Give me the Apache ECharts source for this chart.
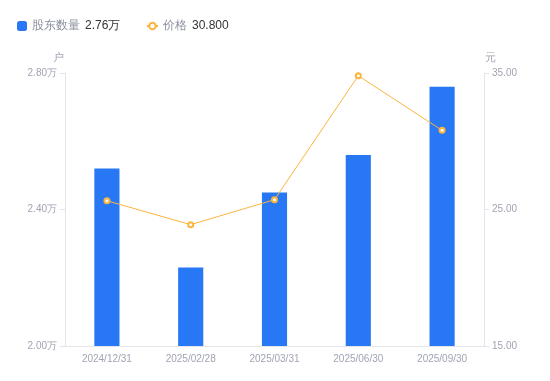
<!DOCTYPE html>
<html>
<head>
<meta charset="utf-8">
<script src="https://cdn.jsdelivr.net/npm/echarts@6/dist/echarts.min.js"></script>
<style>
  html, body { margin: 0; padding: 0; background: #fff; }
  #chart { width: 550px; height: 381px; }
</style>
</head>
<body>
<div id="chart"></div>
<script>
// 报告期
const dates = ['2024/12/31', '2025/02/28', '2025/03/31', '2025/06/30', '2025/09/30'];
// 股东数量（万户）
const holders = [2.52, 2.23, 2.45, 2.56, 2.76];
// 价格（元）
const prices = [25.64, 23.89, 25.72, 34.80, 30.80];

const axisColor = '#e3e5ea';
const labelColor = '#a0a4b3';

let chart = echarts.init(document.getElementById('chart'), null, { renderer: 'canvas' });

// 图例显示最新一期的值
const lastHolder = holders[holders.length - 1].toFixed(2) + '万';
const lastPrice = prices[prices.length - 1].toFixed(3);

const legendText = {
    rich: {
        n: { color: '#8c909f', fontSize: 12, padding: [0, 5, 0, 0] },
        v: { color: '#333', fontSize: 12 }
    }
};
function legendFormatter(name) {
    let v = name === '股东数量' ? lastHolder : lastPrice;
    return '{n|' + name + '}{v|' + v + '}';
}

chart.setOption({
    animation: false,
    legend: [
        {
            left: 12,
            top: 15,
            itemWidth: 10,
            itemHeight: 10,
            data: [{ name: '股东数量', icon: 'roundRect' }],
            formatter: legendFormatter,
            textStyle: legendText
        },
        {
            left: 141,
            top: 15,
            itemWidth: 11,
            itemHeight: 8,
            data: ['价格'],
            formatter: legendFormatter,
            textStyle: legendText
        }
    ],
    grid: { left: 65, right: 66, top: 73, bottom: 35 },
    xAxis: {
        type: 'category',
        data: dates,
        axisLine: { lineStyle: { color: axisColor } },
        axisTick: { show: false },
        axisLabel: { color: labelColor, fontSize: 10, margin: 8 }
    },
    yAxis: [
        {
            type: 'value',
            name: '户',
            min: 2.0,
            max: 2.8,
            interval: 0.4,
            nameGap: 10,
            nameTextStyle: { color: labelColor, fontSize: 11, padding: [0, 14, 0, 0] },
            axisLine: { show: true, lineStyle: { color: axisColor } },
            axisTick: { show: true, length: 5, lineStyle: { color: axisColor } },
            splitLine: { show: false },
            axisLabel: {
                color: labelColor, fontSize: 10, margin: 8,
                formatter: v => v.toFixed(2) + '万'
            }
        },
        {
            type: 'value',
            name: '元',
            min: 15,
            max: 35,
            interval: 10,
            nameGap: 10,
            nameTextStyle: { color: labelColor, fontSize: 11, padding: [0, 0, 0, 12] },
            axisLine: { show: true, lineStyle: { color: axisColor } },
            axisTick: { show: true, length: 5, lineStyle: { color: axisColor } },
            splitLine: { show: false },
            axisLabel: {
                color: labelColor, fontSize: 10, margin: 8,
                formatter: v => v.toFixed(2)
            }
        }
    ],
    series: [
        {
            name: '股东数量',
            type: 'bar',
            data: holders,
            barWidth: '30%',
            itemStyle: { color: '#2878f5' }
        },
        {
            name: '价格',
            type: 'line',
            yAxisIndex: 1,
            data: prices,
            symbol: 'emptyCircle',
            symbolSize: 5,
            lineStyle: { color: '#fbb53c', width: 1 },
            itemStyle: { color: '#fbb53c', borderWidth: 2 }
        }
    ]
});
</script>
</body>
</html>
